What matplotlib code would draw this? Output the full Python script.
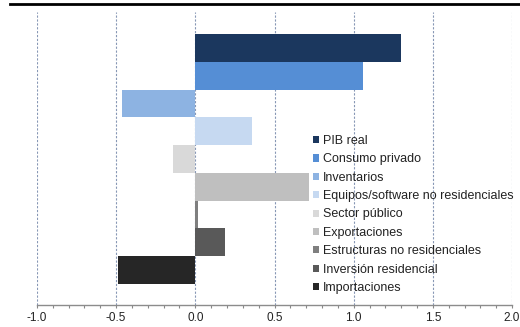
import matplotlib
matplotlib.use("Agg")
import matplotlib.pyplot as plt
from matplotlib.lines import Line2D
from matplotlib.ticker import MultipleLocator

# datos: contribución al crecimiento del PIB (puntos porcentuales)
categorias = ["PIB real", "Consumo privado", "Inventarios",
              "Equipos/software no residenciales", "Sector público",
              "Exportaciones", "Estructuras no residenciales",
              "Inversión residencial", "Importaciones"]
valores = [1.30, 1.06, -0.46, 0.36, -0.14, 0.72, 0.02, 0.19, -0.49]
colores = ["#1b375e", "#558ed5", "#8db3e2", "#c6d9f1", "#d9d9d9",
           "#bfbfbf", "#7f7f7f", "#595959", "#262626"]
xticks = [-1.0, -0.5, 0.0, 0.5, 1.0, 1.5, 2.0]

plt.rcParams["font.family"] = ["Liberation Sans", "DejaVu Sans"]

fig = plt.figure(figsize=(5.2, 3.27), dpi=100)
ax = fig.add_axes([37 / 520, 22.5 / 327, 475 / 520, 292.5 / 327])

pos = list(range(len(categorias)))
barras = ax.barh(pos, valores, height=1.0, color=colores, edgecolor="none", zorder=2)

ax.set_xlim(-1.0, 2.0)
ax.set_ylim(9.24, -1.29)
ax.set_xticks(xticks)
ax.set_xticklabels([f"{v:.1f}" for v in xticks], fontsize=8.5, color="#222222")
ax.xaxis.set_minor_locator(MultipleLocator(0.1))
ax.tick_params(axis="x", which="both", direction="out", length=2.5,
               width=0.8, color="#888888", pad=3)
ax.set_yticks([])

for s in ["top", "left", "right"]:
    ax.spines[s].set_visible(False)
ax.spines["bottom"].set_color("#8c8c8c")
ax.spines["bottom"].set_linewidth(1.0)

ax.xaxis.grid(True, linestyle=(0, (2, 1.5)), color="#8797b5", linewidth=0.8, zorder=1)

leg = ax.legend(barras, categorias, loc="upper left",
                bbox_to_anchor=(313 / 520, (327 - 135) / 327),
                bbox_transform=fig.transFigure, frameon=False, fontsize=9,
                handlelength=0.5, handleheight=0.5, handletextpad=0.3,
                labelspacing=0.51, borderpad=0, borderaxespad=0)
for t in leg.get_texts():
    t.set_color("#222222")

# línea negra superior
fig.add_artist(Line2D([10 / 520, 1.0], [(327 - 4) / 327] * 2,
                      transform=fig.transFigure, color="black", linewidth=2.0))

fig.savefig("out.png", dpi=100)
